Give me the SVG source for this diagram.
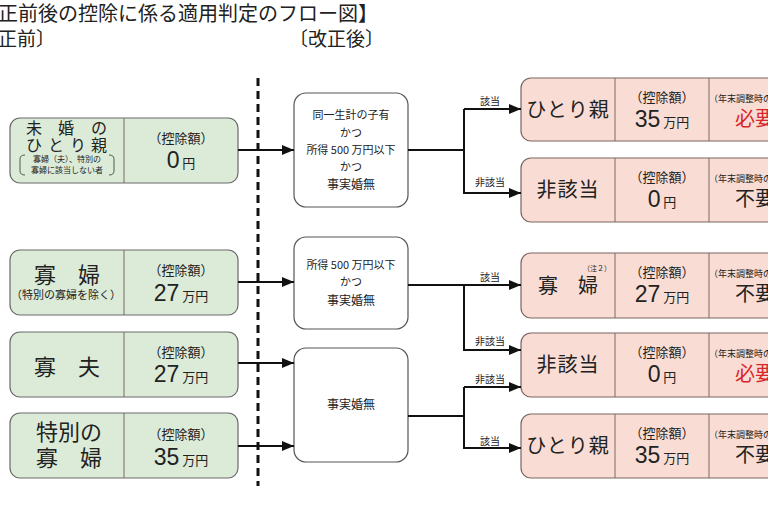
<svg xmlns="http://www.w3.org/2000/svg" width="768" height="505" viewBox="0 0 768 505">
<defs>
<marker id="ah" markerWidth="12" markerHeight="10" refX="12" refY="5" orient="auto" markerUnits="userSpaceOnUse">
<path d="M0,0 L12,5 L0,10 Z" fill="#111"/>
</marker>
<style>
text{font-family:"Noto Sans CJK JP","Noto Sans CJK SC",sans-serif;fill:#222}
.num{font-family:"Liberation Sans","Noto Sans CJK JP",sans-serif}
.g{fill:#dcebd8;stroke:#6a6a6a;stroke-width:1.2}
.p{fill:#f9ddd5;stroke:#7a6560;stroke-width:1.2}
.w{fill:#fff;stroke:#555;stroke-width:1.2}
.div{stroke:#7a6a60;stroke-width:1}
.c{fill:none;stroke:#111;stroke-width:2}
.lbl{font-size:10px}
.ko{font-size:13px}
.red{fill:#d8262c}
.sm{font-size:9px}
</style>
</defs>
<rect width="768" height="505" fill="#fff"/>
<g id="title">
<text x="-2" y="21" font-size="20">正前後の控除に係る適用判定のフロー図】</text>
<text x="-2" y="46" font-size="19">正前〕</text>
<text x="289" y="46" font-size="19">〔改正後〕</text>
</g>
<line x1="258" y1="78" x2="258" y2="486" stroke="#111" stroke-width="3" stroke-dasharray="8,5"/>

<g id="l1">
<rect class="g" x="10" y="118" width="228" height="65" rx="10"/>
<line class="div" x1="124" y1="118" x2="124" y2="183"/>
<text x="26" y="134" font-size="16">未</text><text x="58" y="134" font-size="16">婚</text><text x="91" y="134" font-size="16">の</text>
<text x="26" y="151" font-size="16">ひ</text><text x="48" y="151" font-size="16">と</text><text x="70" y="151" font-size="16">り</text><text x="91" y="151" font-size="16">親</text>
<text x="67" y="162" font-size="8" text-anchor="middle">寡婦（夫）、特別の</text>
<text x="67" y="173" font-size="8" text-anchor="middle">寡婦に該当しない者</text>
<path d="M25,155 Q20,155 20,159 L20,171 Q20,175 25,175" fill="none" stroke="#333" stroke-width="0.8"/>
<path d="M109,155 Q114,155 114,159 L114,171 Q114,175 109,175" fill="none" stroke="#333" stroke-width="0.8"/>
<text x="181" y="143" class="ko" text-anchor="middle">（控除額）</text>
<text x="181" y="168" text-anchor="middle"><tspan class="num" font-size="23">0</tspan><tspan font-size="13"> 円</tspan></text>
</g>

<g id="l2">
<rect class="g" x="10" y="250" width="228" height="65" rx="10"/>
<line class="div" x1="124" y1="250" x2="124" y2="315"/>
<text x="67" y="283" font-size="22" text-anchor="middle">寡　婦</text>
<text x="66" y="299" font-size="11" text-anchor="middle">（特別の寡婦を除く）</text>
<text x="181" y="275" class="ko" text-anchor="middle">（控除額）</text>
<text x="181" y="301" text-anchor="middle"><tspan class="num" font-size="23">27</tspan><tspan font-size="13"> 万円</tspan></text>
</g>

<g id="l3">
<rect class="g" x="10" y="332" width="228" height="65" rx="10"/>
<line class="div" x1="124" y1="332" x2="124" y2="397"/>
<text x="67" y="375" font-size="22" text-anchor="middle">寡　夫</text>
<text x="181" y="357" class="ko" text-anchor="middle">（控除額）</text>
<text x="181" y="382" text-anchor="middle"><tspan class="num" font-size="23">27</tspan><tspan font-size="13"> 万円</tspan></text>
</g>

<g id="l4">
<rect class="g" x="10" y="413" width="228" height="65" rx="10"/>
<line class="div" x1="124" y1="413" x2="124" y2="478"/>
<text x="36" y="440" font-size="22">特別の</text>
<text x="36" y="466" font-size="22">寡　婦</text>
<text x="181" y="439" class="ko" text-anchor="middle">（控除額）</text>
<text x="181" y="465" text-anchor="middle"><tspan class="num" font-size="23">35</tspan><tspan font-size="13"> 万円</tspan></text>
</g>

<g id="m1">
<rect class="w" x="294" y="93" width="114" height="114" rx="12"/>
<text x="351" y="119" font-size="11" text-anchor="middle">同一生計の子有</text>
<text x="351" y="137" font-size="11" text-anchor="middle">かつ</text>
<text x="351" y="154" font-size="11" text-anchor="middle">所得 500 万円以下</text>
<text x="351" y="171" font-size="11" text-anchor="middle">かつ</text>
<text x="351" y="189" font-size="12" text-anchor="middle">事実婚無</text>
</g>
<g id="m2">
<rect class="w" x="294" y="237" width="114" height="92" rx="12"/>
<text x="351" y="269" font-size="11" text-anchor="middle">所得 500 万円以下</text>
<text x="351" y="286" font-size="11" text-anchor="middle">かつ</text>
<text x="351" y="305" font-size="12" text-anchor="middle">事実婚無</text>
</g>
<g id="m3">
<rect class="w" x="294" y="348" width="114" height="114" rx="12"/>
<text x="351" y="409" font-size="12" text-anchor="middle">事実婚無</text>
</g>

<g id="r1">
<rect class="p" x="521" y="78" width="262" height="63" rx="10"/>
<line class="div" x1="615" y1="78" x2="615" y2="141"/><line class="div" x1="709" y1="78" x2="709" y2="141"/>
<text x="568" y="117" font-size="20" text-anchor="middle" letter-spacing="1">ひとり親</text>
<text x="662" y="102" class="ko" text-anchor="middle">（控除額）</text>
<text x="662" y="127" text-anchor="middle"><tspan class="num" font-size="23">35</tspan><tspan font-size="13"> 万円</tspan></text>
<text x="709" y="102" class="sm">（年末調整時の</text>
<text x="735" y="126" font-size="20" class="red">必要</text>
</g>
<g id="r2">
<rect class="p" x="521" y="158" width="262" height="64" rx="10"/>
<line class="div" x1="615" y1="158" x2="615" y2="222"/><line class="div" x1="709" y1="158" x2="709" y2="222"/>
<text x="568" y="197" font-size="20" text-anchor="middle" letter-spacing="1">非該当</text>
<text x="662" y="182" class="ko" text-anchor="middle">（控除額）</text>
<text x="662" y="207" text-anchor="middle"><tspan class="num" font-size="23">0</tspan><tspan font-size="13"> 円</tspan></text>
<text x="709" y="182" class="sm">（年末調整時の</text>
<text x="735" y="206" font-size="20">不要</text>
</g>
<g id="r3">
<rect class="p" x="521" y="253" width="262" height="65" rx="10"/>
<line class="div" x1="615" y1="253" x2="615" y2="318"/><line class="div" x1="709" y1="253" x2="709" y2="318"/>
<text x="568" y="293" font-size="20" text-anchor="middle">寡　婦</text>
<text x="583" y="271" font-size="7">（注２）</text>
<text x="662" y="277" class="ko" text-anchor="middle">（控除額）</text>
<text x="662" y="302" text-anchor="middle"><tspan class="num" font-size="23">27</tspan><tspan font-size="13"> 万円</tspan></text>
<text x="709" y="277" class="sm">（年末調整時の</text>
<text x="735" y="301" font-size="20">不要</text>
</g>
<g id="r4">
<rect class="p" x="521" y="333" width="262" height="64" rx="10"/>
<line class="div" x1="615" y1="333" x2="615" y2="397"/><line class="div" x1="709" y1="333" x2="709" y2="397"/>
<text x="568" y="372" font-size="20" text-anchor="middle" letter-spacing="1">非該当</text>
<text x="662" y="357" class="ko" text-anchor="middle">（控除額）</text>
<text x="662" y="382" text-anchor="middle"><tspan class="num" font-size="23">0</tspan><tspan font-size="13"> 円</tspan></text>
<text x="709" y="357" class="sm">（年末調整時の</text>
<text x="735" y="381" font-size="20" class="red">必要</text>
</g>
<g id="r5">
<rect class="p" x="521" y="414" width="262" height="64" rx="10"/>
<line class="div" x1="615" y1="414" x2="615" y2="478"/><line class="div" x1="709" y1="414" x2="709" y2="478"/>
<text x="568" y="453" font-size="20" text-anchor="middle" letter-spacing="1">ひとり親</text>
<text x="662" y="438" class="ko" text-anchor="middle">（控除額）</text>
<text x="662" y="463" text-anchor="middle"><tspan class="num" font-size="23">35</tspan><tspan font-size="13"> 万円</tspan></text>
<text x="709" y="438" class="sm">（年末調整時の</text>
<text x="735" y="462" font-size="20">不要</text>
</g>

<g id="connectors">
<line class="c" x1="238" y1="150" x2="294" y2="150" marker-end="url(#ah)"/>
<line class="c" x1="238" y1="282" x2="294" y2="282" marker-end="url(#ah)"/>
<line class="c" x1="238" y1="363" x2="294" y2="363" marker-end="url(#ah)"/>
<line class="c" x1="238" y1="446" x2="294" y2="446" marker-end="url(#ah)"/>
<polyline class="c" points="408,150 464,150"/>
<polyline class="c" points="464,109 464,193 521,193" marker-end="url(#ah)"/>
<line class="c" x1="464" y1="109" x2="521" y2="109" marker-end="url(#ah)"/>
<polyline class="c" points="408,285 521,285" marker-end="url(#ah)"/>
<polyline class="c" points="464,285 464,350 521,350" marker-end="url(#ah)"/>
<polyline class="c" points="408,416 464,416"/>
<polyline class="c" points="464,387 464,448 521,448" marker-end="url(#ah)"/>
<line class="c" x1="464" y1="387" x2="521" y2="387" marker-end="url(#ah)"/>
<text x="490" y="105" class="lbl" text-anchor="middle">該当</text>
<text x="490" y="186" class="lbl" text-anchor="middle">非該当</text>
<text x="490" y="281" class="lbl" text-anchor="middle">該当</text>
<text x="490" y="345" class="lbl" text-anchor="middle">非該当</text>
<text x="490" y="383" class="lbl" text-anchor="middle">非該当</text>
<text x="490" y="445" class="lbl" text-anchor="middle">該当</text>
</g>
</svg>
